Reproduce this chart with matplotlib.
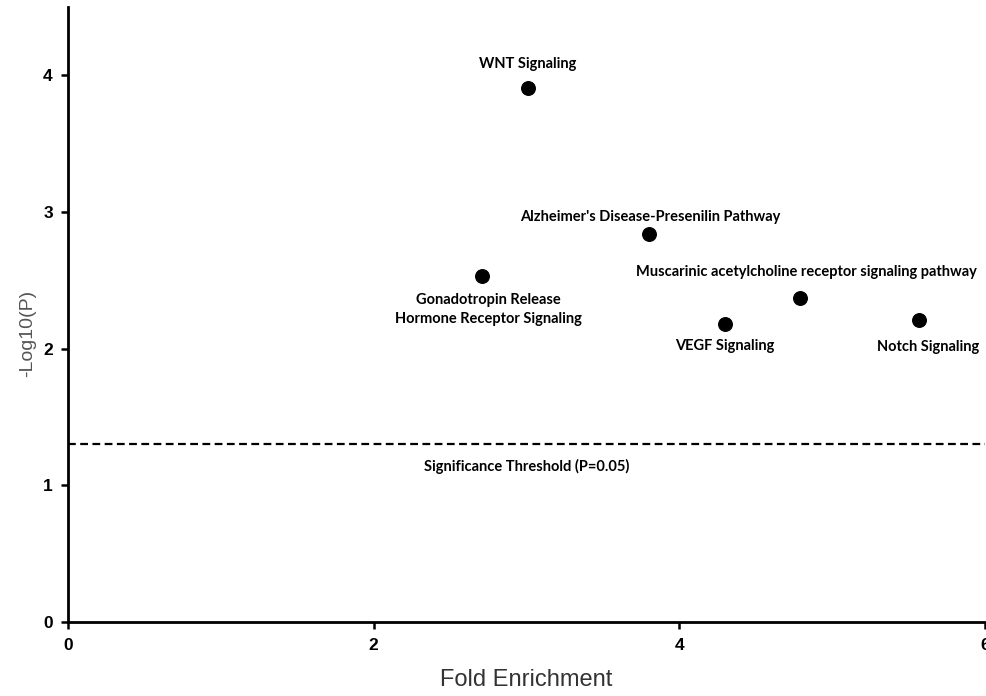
import matplotlib
matplotlib.use("Agg")
import matplotlib.pyplot as plt

# pathway enrichment values
pathways = [
    "WNT Signaling",
    "Alzheimer's Disease-Presenilin Pathway",
    "Gonadotropin Release\nHormone Receptor Signaling",
    "Muscarinic acetylcholine receptor signaling pathway",
    "VEGF Signaling",
    "Notch Signaling",
]
fold_enrichment = [3.01, 3.80, 2.71, 4.79, 4.30, 5.57]
neg_log_p = [3.91, 2.84, 2.53, 2.37, 2.18, 2.21]
threshold = 1.30  # -log10(0.05)

# label offsets in pixels relative to each point
offsets = [(0, 24), (1, 17), (6, -33), (6, 26), (0, -22), (9, -27)]

fig = plt.figure(figsize=(9.87, 6.96), dpi=100)
ax = fig.add_axes([0.069, 0.106, 0.929, 0.884])

ax.scatter(fold_enrichment, neg_log_p, s=95, color="black", zorder=3)
ax.axhline(threshold, color="black", linestyle=(0, (3.5, 2)), linewidth=1.6)

for name, x, y, off in zip(pathways, fold_enrichment, neg_log_p, offsets):
    ax.annotate(name, (x, y), xytext=off, textcoords="offset pixels",
                ha="center", va="center", fontsize=10.5, fontweight="bold",
                family="Lato", linespacing=1.4)
ax.annotate("Significance Threshold (P=0.05)", (3.0, threshold), xytext=(0, -22),
            textcoords="offset pixels", ha="center", va="center",
            fontsize=10.5, fontweight="bold", family="Lato")

ax.set_xlim(0, 6)
ax.set_ylim(0, 4.5)
ax.set_xticks([0, 2, 4, 6])
ax.set_yticks([0, 1, 2, 3, 4])
for lab in ax.get_xticklabels() + ax.get_yticklabels():
    lab.set_fontweight("bold")
    lab.set_family("Liberation Sans")
    lab.set_fontsize(12.5)
ax.tick_params(direction="out", length=5, width=1.8, pad=6)

for side in ("top", "right"):
    ax.spines[side].set_visible(False)
for side in ("left", "bottom"):
    ax.spines[side].set_linewidth(2)

ax.set_xlabel("Fold Enrichment", fontsize=17, color="#333333",
              family="Liberation Sans", labelpad=12)
ax.set_ylabel("-Log10(P)", fontsize=14, color="#555555",
              family="Liberation Sans")
ax.yaxis.set_label_coords(-0.035, 0.47)

fig.savefig("out.png", dpi=100)
